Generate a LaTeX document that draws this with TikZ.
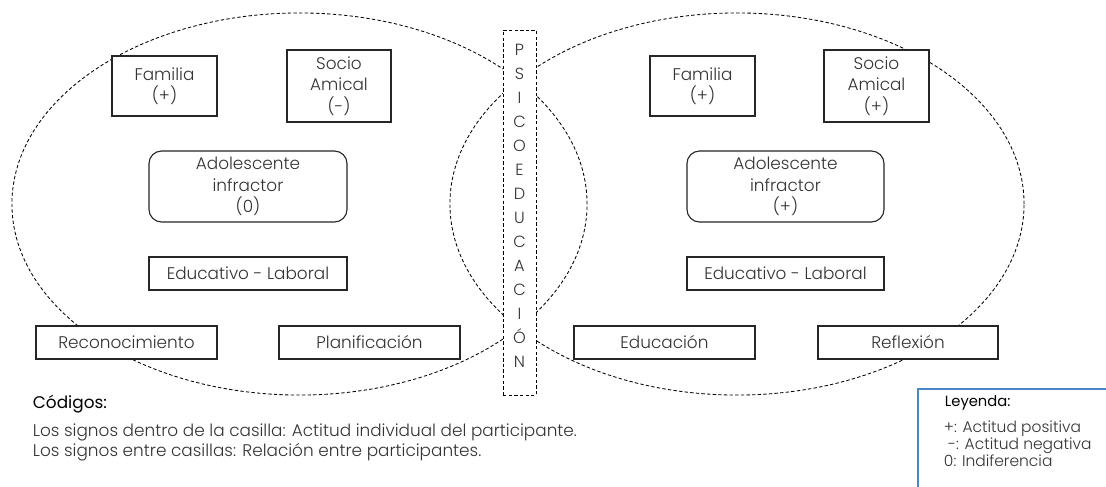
\documentclass[tikz,border=0pt]{standalone}
\usepackage{fontspec}
\IfFontExistsTF{Poppins Light}{\setmainfont{Poppins Light}}{\setmainfont{Poppins}}
\newfontfamily\titfont{Poppins}
\definecolor{txtgray}{HTML}{333333}
\definecolor{legblue}{HTML}{4A86C8}
\tikzset{
  caja/.style={draw=black!85, fill=white, line width=0.8pt, text=txtgray, align=center,
    font=\fontsize{12}{15.2}\selectfont, inner sep=0pt},
  cajaredonda/.style={caja, rounded corners=9pt},
  zona/.style={draw=black, dash pattern=on 2.4pt off 1.6pt, line width=0.6pt},
}
\begin{document}
\begin{tikzpicture}[x=0.025cm, y=-0.025cm]
    \useasboundingbox (0,0) rectangle (1106,487);

    \draw[zona] (299.5,204) ellipse [x radius=7.1875cm, y radius=4.775cm];
    \draw[zona] (737,204) ellipse [x radius=7.175cm, y radius=4.775cm];

    \node[caja, minimum width=2.625cm, minimum height=1.5cm] (fam1) at (164.5,86) {Familia\\(+)};
    \node[caja, minimum width=2.6cm, minimum height=1.8cm] (soc1) at (339,86) {Socio\\Amical\\(-)};
    \node[cajaredonda, minimum width=4.95cm, minimum height=1.775cm] (ado1) at (248,186.5) {Adolescente\\infractor\\(0)};
    \node[caja, minimum width=4.95cm, minimum height=0.825cm] (edu1) at (248,273.5) {Educativo - Laboral};
    \node[caja, minimum width=4.525cm, minimum height=0.825cm] (rec) at (126.5,342.5) {Reconocimiento};
    \node[caja, minimum width=4.525cm, minimum height=0.825cm] (pla) at (369.5,342.5) {Planificación};

    \node[caja, minimum width=2.625cm, minimum height=1.5cm] (fam2) at (702.5,86) {Familia\\(+)};
    \node[caja, minimum width=2.625cm, minimum height=1.8cm] (soc2) at (876.5,86) {Socio\\Amical\\(+)};
    \node[cajaredonda, minimum width=4.925cm, minimum height=1.775cm] (ado2) at (785.5,186.5) {Adolescente\\infractor\\(+)};
    \node[caja, minimum width=4.925cm, minimum height=0.825cm] (edu2) at (785.5,273.5) {Educativo - Laboral};
    \node[caja, minimum width=4.525cm, minimum height=0.825cm] (edc) at (664.5,342.5) {Educación};
    \node[caja, minimum width=4.5cm, minimum height=0.825cm] (ref) at (908,342.5) {Reflexión};

    \node[zona, fill=white, minimum width=0.825cm, minimum height=9.125cm] (psi) at (519.5,212.5) {};
    \node[text=txtgray, align=center, font=\fontsize{11.5}{17.08}\selectfont] (psitxt) at (519.5,205.5)
        {P\\S\\I\\C\\O\\E\\D\\U\\C\\A\\C\\I\\Ó\\N};

    \node[anchor=west, text=black, font=\titfont\fontsize{12}{13}\selectfont] (cod) at (28,404) {Códigos:};
    \node[anchor=north west, align=left, text=txtgray, font=\fontsize{12}{14.2}\selectfont] (codtxt) at (28,419)
        {Los signos dentro de la casilla: Actitud individual del participante.\\Los signos entre casillas: Relación entre participantes.};

    \draw[legblue, line width=0.8pt] (1106,389) -- (918,389) -- (918,487);
    \node[anchor=west, text=black, font=\titfont\fontsize{10.5}{11}\selectfont] (ley) at (940,403) {Leyenda:};
    \node[anchor=north west, align=left, text=txtgray, font=\fontsize{11}{8.2}\selectfont] (leytxt) at (939,416)
        {+: Actitud positiva\\\hspace*{3pt}-: Actitud negativa\\0: Indiferencia};
\end{tikzpicture}
\end{document}
